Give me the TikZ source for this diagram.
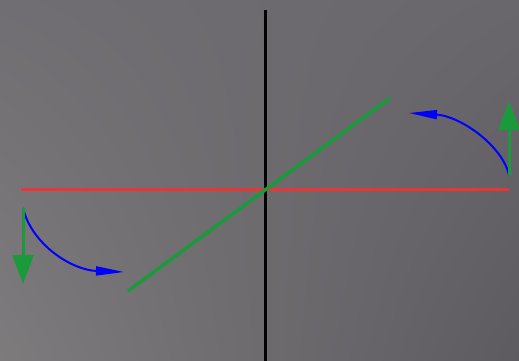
\documentclass[tikz,border=0pt]{standalone}
\usepackage{xcolor}
\usepackage{tikz}
\usetikzlibrary{arrows.meta, calc, shadings}

\definecolor{axisred}{HTML}{EE3333}
\definecolor{axisgreen}{HTML}{1A9A3A}
\definecolor{turnblue}{HTML}{0000FF}
\definecolor{bgnw}{HTML}{716E73}
\definecolor{bgne}{HTML}{6A676C}
\definecolor{bgsw}{HTML}{7E7B7D}
\definecolor{bgse}{HTML}{5D5B60}

\begin{document}
\begin{tikzpicture}[
    x=1pt, y=-1pt,
    axis/.style={line width=3pt},
    turn/.style={turnblue, line width=2pt, -{Triangle[length=28pt, width=9pt]}},
    lift/.style={axisgreen, line width=3pt, -{Triangle[length=29pt, width=21pt]}}
]
% backdrop
\shade[upper left=bgnw, upper right=bgne, lower left=bgsw, lower right=bgse]
    (0,0) rectangle (519,361);
\useasboundingbox (0,0) rectangle (519,361);

\coordinate (top) at (265,10);
\coordinate (bottom) at (265,361);
\coordinate (left) at (21,189);
\coordinate (right) at (509,189);
\coordinate (low) at (128,291);
\coordinate (high) at (390,98);

\draw [axis, black] (top) -- (bottom);
\draw [axis, axisred] (left) -- (right);
\draw [axis, axisgreen, line width=3.5pt] (low) -- (high);

% right end
\coordinate (rstart) at (509,175);
\coordinate (rend) at (409,113);
\coordinate (rtip) at (509,101);
\draw [turn] (rstart) .. controls (502,145) and (460,116) .. (rend);
\draw [lift] (rstart) -- (rtip);

% left end
\coordinate (lstart) at (23,208);
\coordinate (lend) at (124,272);
\coordinate (ltip) at (23,284);
\draw [turn] (lstart) .. controls (32,245) and (72,270) .. (lend);
\draw [lift] (lstart) -- (ltip);
\end{tikzpicture}
\end{document}
